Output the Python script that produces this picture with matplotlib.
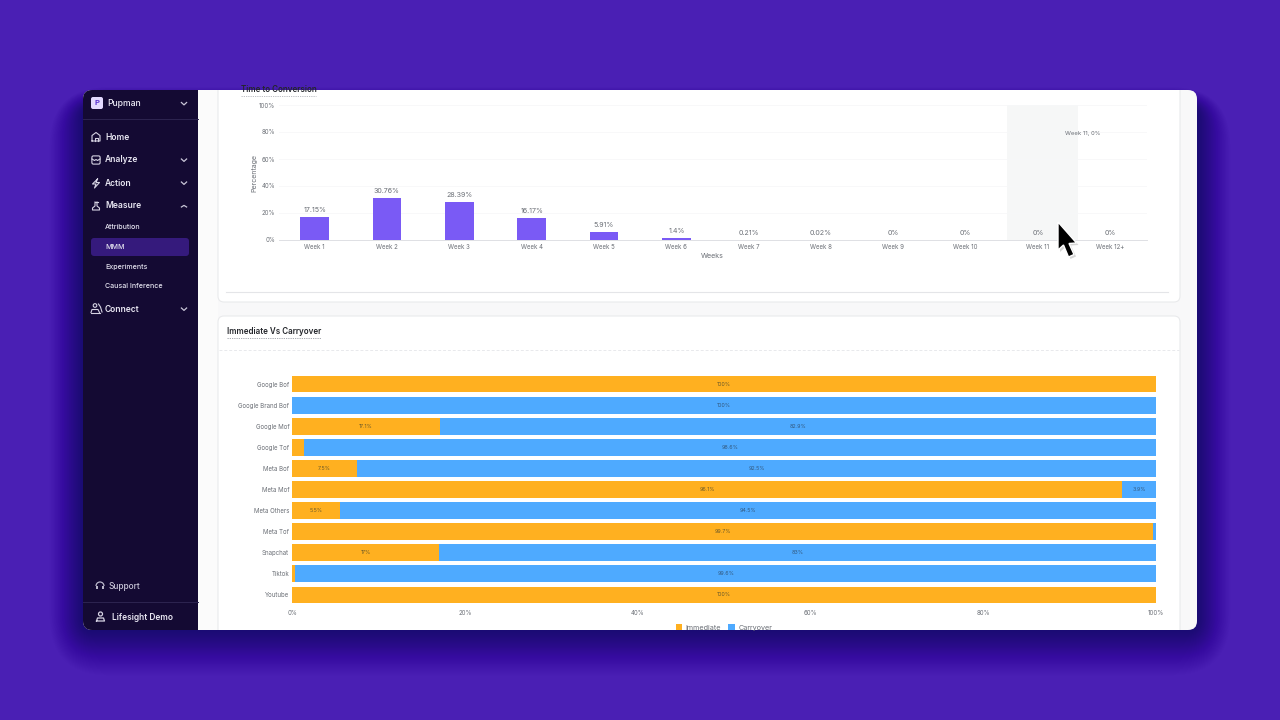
import matplotlib
matplotlib.use('Agg')
import matplotlib.pyplot as plt
from matplotlib.patches import FancyBboxPatch, Rectangle, Polygon, Circle, Arc

plt.rcParams['font.family'] = ['Inter', 'DejaVu Sans']

# time to conversion
weeks = ['Week 1', 'Week 2', 'Week 3', 'Week 4', 'Week 5', 'Week 6', 'Week 7',
         'Week 8', 'Week 9', 'Week 10', 'Week 11', 'Week 12+']
week_values = [17.15, 30.76, 28.39, 16.17, 5.91, 1.4, 0.21, 0.02, 0, 0, 0, 0]
week_labels = ['17.15%', '30.76%', '28.39%', '16.17%', '5.91%', '1.4%', '0.21%',
               '0.02%', '0%', '0%', '0%', '0%']
pct_ticks = [0, 20, 40, 60, 80, 100]

# immediate vs carryover
channels = ['Google Bof', 'Google Brand Bof', 'Google Mof', 'Google Tof', 'Meta Bof',
            'Meta Mof', 'Meta Others', 'Meta Tof', 'Snapchat', 'Tiktok', 'Youtube']
immediate = [100, 0, 17.1, 1.4, 7.5, 96.1, 5.5, 99.7, 17, 0.4, 100]
carryover = [0, 100, 82.9, 98.6, 92.5, 3.9, 94.5, 0.3, 83, 99.6, 0]

# sidebar text: label, y, has arrow
menu = [('Home', 137, False), ('Analyze', 160, True), ('Action', 183, True),
        ('Measure', 206, True), ('Connect', 309, True)]
submenu = [('Attribution', 227), ('MMM', 247), ('Experiments', 267), ('Causal Inference', 286)]

W, H = 1280, 720
BG = '#4a1fb4'
DARK = '#140a33'
ORANGE = '#ffb020'
BLUE = '#4eaaff'
PURPLE = '#7a5af5'
GREY = '#6b6f76'
ICON = '#d5d2e2'

fig = plt.figure(figsize=(12.8, 7.2), dpi=100, facecolor=BG)
bg = fig.add_axes([0, 0, 1, 1], zorder=0)
bg.set_xlim(0, W)
bg.set_ylim(H, 0)
bg.axis('off')


def px_axes(left, top, right, bottom, z=2):
    a = fig.add_axes([left / W, 1 - bottom / H, (right - left) / W, (bottom - top) / H], zorder=z)
    a.patch.set_alpha(0)
    return a


def rbox(x0, y0, x1, y1, r, **kw):
    p = FancyBboxPatch((x0 + r, y0 + r), x1 - x0 - 2 * r, y1 - y0 - 2 * r,
                       boxstyle=f'round,pad={r},rounding_size={r}', **kw)
    bg.add_patch(p)
    return p


# soft shadow under the window, dropped downwards
for grow in range(50, 0, -1):
    rbox(83 - grow * 0.7, 90 + 16 - grow * 0.4, 1197 + grow * 0.7, 630 + grow * 0.95, 12 + grow,
         fc='#1a0b58', ec='none', alpha=0.0006 * (50 - grow) + 0.001, zorder=1)

window = rbox(83, 90, 1197, 630, 9, fc='#f8f8f9', ec='none', zorder=2)

# sidebar, clipped by the window shape
side = Rectangle((83, 90), 115, 540, fc=DARK, ec='none', zorder=3)
bg.add_patch(side)
side.set_clip_path(window)

# cards
bg.add_patch(Rectangle((198, 90), 20, 540, fc='#fbfbfb', ec='none', zorder=3))
card1 = rbox(218, 60, 1180, 302, 6, fc='white', ec='#e9eaec', lw=0.8, zorder=3)
card2 = rbox(218, 316, 1180, 680, 6, fc='white', ec='#e9eaec', lw=0.8, zorder=3)
card1.set_clip_path(window)
card2.set_clip_path(window)
bg.plot([226, 1168], [292, 292], color='#e4e5e8', lw=0.8, zorder=4)
bg.plot([219, 1179], [350, 350], color='#e8e9ec', lw=0.7, ls=(0, (3, 2)), zorder=4)

# sidebar contents
rbox(91, 97, 103, 109, 2, fc='#e3d9ff', ec='none', zorder=4)
bg.text(97, 103.2, 'P', color='#5a31d0', fontsize=5.5, fontweight='bold', ha='center', va='center', zorder=5)
bg.text(107.5, 103.5, 'Pupman', color='#eceaf5', fontsize=6.2, fontweight='medium', va='center', zorder=5)
bg.plot([83, 198], [118.5, 118.5], color='#2d2450', lw=0.7, zorder=4)
bg.plot([83, 198], [601.5, 601.5], color='#2d2450', lw=0.7, zorder=4)
rbox(91, 238, 189, 256, 3, fc='#351a7c', ec='none', zorder=4)


def chevron(x, y, up=False):
    d = -2 if up else 2
    bg.plot([x - 2.6, x, x + 2.6], [y - d / 2, y + d / 2 + 0.4, y - d / 2], color='#c9c6d8', lw=0.9, zorder=5)


def line_icon(xs, ys, color=ICON):
    bg.plot(xs, ys, color=color, lw=0.8, zorder=5, solid_joinstyle='round')


chevron(184, 103.5)
for label, y, arrow in menu:
    bg.text(105, y, label, color='#e8e6f2', fontsize=6.1, fontweight='semibold', va='center', zorder=5)
    if arrow:
        chevron(184, y, up=label == 'Measure')
for label, y in submenu:
    bg.text(105, y, label, color='#e4e2ef', fontsize=5.1, fontweight='medium', va='center', zorder=5)

# home
line_icon([92, 92, 96, 100, 100, 92], [141, 135.5, 132.5, 135.5, 141, 141])
line_icon([94.5, 94.5, 97.5, 97.5], [141, 137.5, 137.5, 141])
# analyze
bg.add_patch(FancyBboxPatch((92.5, 156.5), 7, 7, boxstyle='round,pad=0.6,rounding_size=1.5', fc='none', ec=ICON, lw=0.8, zorder=5))
line_icon([92, 94.5, 96, 97.5, 100], [159, 160.5, 159.5, 160.5, 159])
# action
line_icon([97.5, 92.5, 96, 94.5, 99.5, 96, 97.5], [179, 184, 184, 188, 182.5, 182.5, 179])
# measure
line_icon([94.5, 97.5], [202, 202])
line_icon([95, 95, 92.5, 92.5, 99.5, 99.5, 97, 97], [202, 206, 208, 210, 210, 208, 206, 202])
# connect
bg.add_patch(Circle((95, 305.5), 1.8, fc='none', ec=ICON, lw=0.8, zorder=5))
line_icon([91, 92, 98, 99.5], [312.5, 309.5, 309.5, 312.5])
line_icon([91, 99.5], [312.5, 312.5])
line_icon([98.5, 100.5, 102], [304, 307, 312])
# support
bg.add_patch(Arc((100, 586), 8, 8, theta1=180, theta2=360, ec='#b9b6c9', lw=0.9, zorder=5))
bg.add_patch(Rectangle((96, 586), 1.6, 3.2, fc='#b9b6c9', ec='none', zorder=5))
bg.add_patch(Rectangle((102.4, 586), 1.6, 3.2, fc='#b9b6c9', ec='none', zorder=5))
bg.text(108.5, 586.5, 'Support', color='#c9c6d8', fontsize=6, fontweight='medium', va='center', zorder=5)
# user
bg.add_patch(Circle((100.5, 614), 2, fc='none', ec=ICON, lw=0.9, zorder=5))
bg.plot([96.5, 97.5, 103.5, 104.5, 96.5], [621, 618, 618, 621, 621], color=ICON, lw=0.9, zorder=5)
bg.text(112, 617, 'Lifesight Demo', color='#e8e6f2', fontsize=6, fontweight='semibold', va='center', zorder=5)

# card titles
t = bg.text(241, 90, 'Time to Conversion', color='#24262b', fontsize=5.8, fontweight='semibold', va='center', zorder=5)
t.set_clip_path(window)
bg.text(227, 331.5, 'Immediate Vs Carryover', color='#24262b', fontsize=5.8, fontweight='semibold', va='center', zorder=5)
bg.plot([227, 321], [337.5, 337.5], color='#9a9da5', lw=0.6, ls=(0, (1.5, 1.2)), zorder=5)
bg.plot([241, 316], [95.5, 95.5], color='#b5b7bd', lw=0.6, ls=(0, (1.5, 1.2)), zorder=5)

# top chart
ax = px_axes(278.5, 105, 1146.5, 240)
x = list(range(len(weeks)))
ax.axvspan(9.57, 10.55, color='#f6f7f7', lw=0, zorder=0)
ax.bar(x, week_values, width=0.4, color=PURPLE, zorder=2)
for i, (v, s) in enumerate(zip(week_values, week_labels)):
    ax.text(i, v + 3, s, ha='center', va='bottom', fontsize=5.1, color=GREY)
ax.text(10.37, 79, 'Week 11, 0%', fontsize=4.3, color=GREY, ha='left', va='center')
ax.set_xlim(-0.5, 11.5)
ax.set_ylim(0, 100)
ax.set_yticks(pct_ticks)
ax.set_yticklabels([f'{v}%' for v in pct_ticks])
ax.set_xticks(x)
ax.set_xticklabels(weeks)
ax.tick_params(length=0, labelsize=4.4, labelcolor=GREY, pad=2.6)
ax.grid(axis='y', color='#f7f7f9', lw=0.6, zorder=0)
ax.set_axisbelow(True)
for s in ['top', 'right', 'left']:
    ax.spines[s].set_visible(False)
ax.spines['bottom'].set_color('#dfe0e4')
ax.spines['bottom'].set_linewidth(0.7)
ax.set_xlabel('Weeks', fontsize=5.1, color=GREY, labelpad=2.6)
ax.set_ylabel('Percentage', fontsize=5.1, color=GREY, labelpad=1.2)

# bottom chart
ax2 = px_axes(292, 373.5, 1156, 605.5)
y = list(range(len(channels)))
ax2.barh(y, immediate, height=0.8, color=ORANGE, label='Immediate', zorder=2)
ax2.barh(y, carryover, left=immediate, height=0.8, color=BLUE, label='Carryover', zorder=2)
for i in y:
    if immediate[i] >= 5:
        ax2.text(immediate[i] / 2, i, f'{immediate[i]:g}%', ha='center', va='center', fontsize=3.8, color='#6b5a2a')
    if carryover[i] >= 3:
        ax2.text(immediate[i] + carryover[i] / 2, i, f'{carryover[i]:g}%', ha='center', va='center', fontsize=3.8, color='#33597f')
ax2.set_xlim(0, 100)
ax2.set_ylim(len(channels) - 0.5, -0.5)
ax2.set_yticks(y)
ax2.set_yticklabels(channels)
ax2.set_xticks(pct_ticks)
ax2.set_xticklabels([f'{v}%' for v in pct_ticks])
ax2.tick_params(length=0, labelsize=4.4, labelcolor=GREY)
ax2.tick_params(axis='x', pad=3)
ax2.tick_params(axis='y', pad=2)
for s in ax2.spines.values():
    s.set_visible(False)
leg = ax2.legend(loc='center', bbox_to_anchor=(0.5, -0.095), ncol=2, frameon=False, fontsize=5.2,
                 handlelength=0.9, handleheight=0.9, handletextpad=0.5, columnspacing=1.0,
                 labelcolor=GREY, borderpad=0, borderaxespad=0)

# mouse pointer
over = px_axes(0, 0, W, H, z=5)
over.set_xlim(0, W)
over.set_ylim(H, 0)
over.axis('off')
pointer = [(1058, 222), (1058, 250), (1063.5, 245), (1068.5, 257), (1074, 254.5), (1069, 243.5), (1076.5, 243)]
over.add_patch(Polygon([(a + 2, b + 2) for a, b in pointer], closed=True, fc='#8a8a8a', ec='none', alpha=0.35))
over.add_patch(Polygon(pointer, closed=True, fc='black', ec='white', lw=1.0))

fig.savefig('out.png', dpi=100, facecolor=BG)
